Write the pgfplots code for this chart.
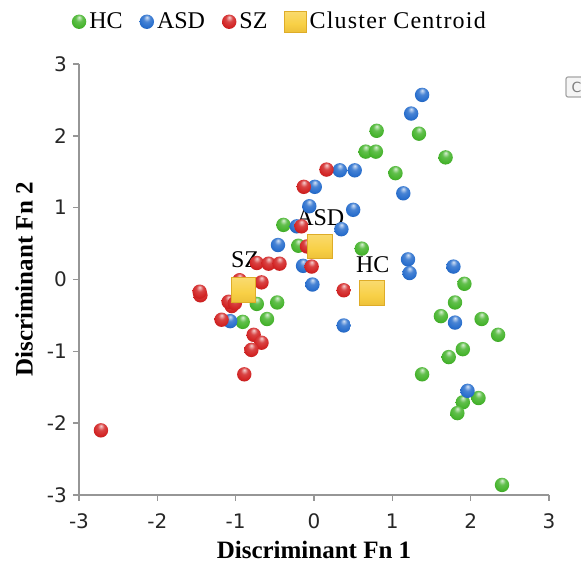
\documentclass[border=0pt]{standalone}
\usepackage{fontspec}
\setmainfont{Liberation Serif}
\newfontfamily\tickfont{DejaVu Sans}
\usepackage{pgfplots}
\pgfplotsset{compat=1.18}

\definecolor{hcgreen}{RGB}{70,180,45}
\definecolor{asdblue}{RGB}{40,110,205}
\definecolor{szred}{RGB}{210,35,35}
\definecolor{cyellow}{RGB}{248,208,70}
\definecolor{cedge}{RGB}{222,172,40}
\definecolor{axisgray}{RGB}{150,150,150}

% soft glossy balls, one shading per group
\pgfdeclareradialshading{ballG}{\pgfpoint{0bp}{16bp}}{color(0bp)=(hcgreen!20!white); color(12bp)=(hcgreen!85!white);
  color(26bp)=(hcgreen); color(40bp)=(hcgreen!75!black); color(50bp)=(hcgreen!55!black)}
\pgfdeclareradialshading{ballB}{\pgfpoint{0bp}{16bp}}{color(0bp)=(asdblue!20!white); color(12bp)=(asdblue!85!white);
  color(26bp)=(asdblue); color(40bp)=(asdblue!75!black); color(50bp)=(asdblue!55!black)}
\pgfdeclareradialshading{ballR}{\pgfpoint{0bp}{16bp}}{color(0bp)=(szred!20!white); color(12bp)=(szred!85!white);
  color(26bp)=(szred); color(40bp)=(szred!75!black); color(50bp)=(szred!55!black)}
\pgfdeclareverticalshading{cgrad}{100bp}{color(0bp)=(cedge); color(45bp)=(cyellow); color(100bp)=(cyellow!60!white)}
\pgfdeclareplotmark{ballG}{\pgfpathcircle{\pgfpointorigin}{\pgfplotmarksize}\pgfshadepath{ballG}{0}\pgfusepath{}}
\pgfdeclareplotmark{ballB}{\pgfpathcircle{\pgfpointorigin}{\pgfplotmarksize}\pgfshadepath{ballB}{0}\pgfusepath{}}
\pgfdeclareplotmark{ballR}{\pgfpathcircle{\pgfpointorigin}{\pgfplotmarksize}\pgfshadepath{ballR}{0}\pgfusepath{}}
\pgfdeclareplotmark{csquare}{%
  \pgfpathrectangle{\pgfpoint{-\pgfplotmarksize}{-\pgfplotmarksize}}{\pgfpoint{2\pgfplotmarksize}{2\pgfplotmarksize}}%
  \pgfshadepath{cgrad}{0}\pgfusepath{}%
  \pgfpathrectangle{\pgfpoint{-\pgfplotmarksize}{-\pgfplotmarksize}}{\pgfpoint{2\pgfplotmarksize}{2\pgfplotmarksize}}%
  \pgfusepath{stroke}}

\pgfplotsset{
  ball legend/.style={legend image code/.code={\draw[mark repeat=2, mark phase=2, ##1]
    plot coordinates {(0pt,0pt)(3.5pt,0pt)(7pt,0pt)};}},
  centroid legend/.style={legend image code/.code={\draw[mark repeat=2, mark phase=2, ##1, mark size=5.3pt]
    plot coordinates {(0pt,0pt)(5.5pt,0pt)(11pt,0pt)};}},
}

\begin{document}
\begin{tikzpicture}
\begin{axis}[
  scale only axis,
  width=235pt, height=215.5pt,
  xmin=-3, xmax=3, ymin=-3, ymax=3,
  xtick={-3,...,3}, ytick={-3,...,3},
  axis x line*=bottom, axis y line*=left,
  axis line style={draw=axisgray, line width=0.8pt, -},
  tick align=outside, major tick length=3pt,
  tick style={draw=axisgray, line width=0.8pt},
  ticklabel style={font=\tickfont\fontsize{10}{12}\selectfont, text=black!85},
  x tick label style={yshift=-3pt},
  y tick label style={xshift=0.5pt},
  /pgf/number format/assume math mode=true,
  xlabel={Discriminant Fn 1},
  ylabel={Discriminant Fn 2},
  label style={font=\fontsize{12.5}{15}\selectfont\bfseries},
  xlabel style={at={(axis description cs:0.5,-0.128)}, anchor=center},
  ylabel style={at={(axis description cs:-0.117,0.5)}, anchor=center},
  legend columns=4,
  legend style={draw=none, fill=none, at={(axis description cs:-0.016,1.098)},
    anchor=west, font=\fontsize{12}{14}\selectfont, inner sep=0pt,
    nodes={inner xsep=1.5pt},
    /tikz/every even column/.append style={column sep=7pt}},
  mark size=3.6pt,
]
% HC
\addplot[only marks, mark=ballG, ball legend] coordinates {
  (0.66,1.78) (0.79,1.78) (0.80,2.07) (1.34,2.03) (1.68,1.70) (1.04,1.48)
  (0.61,0.43) (-0.39,0.76) (-0.20,0.47) (-0.73,-0.34) (-0.47,-0.32)
  (-0.91,-0.59) (-0.60,-0.55) (1.38,-1.32) (1.92,-0.06) (1.80,-0.32)
  (1.62,-0.51) (2.14,-0.55) (2.35,-0.77) (1.90,-0.97) (1.72,-1.08)
  (2.10,-1.65) (1.90,-1.71) (1.83,-1.86) (2.40,-2.86)
};
\addlegendentry{HC}
% ASD
\addplot[only marks, mark=ballB, ball legend] coordinates {
  (1.38,2.57) (1.24,2.31) (0.33,1.52) (0.52,1.52) (1.14,1.20) (0.01,1.29)
  (-0.06,1.02) (0.50,0.97) (0.35,0.70) (-0.22,0.74) (-0.46,0.48)
  (-0.14,0.19) (-0.02,-0.07) (0.38,-0.64) (1.20,0.28) (1.22,0.09)
  (1.78,0.18) (1.80,-0.60) (1.96,-1.55) (-1.07,-0.58)
};
\addlegendentry{ASD}
% SZ
\addplot[only marks, mark=ballR, ball legend] coordinates {
  (0.16,1.53) (-0.13,1.29) (-0.16,0.74) (-0.09,0.46) (-0.03,0.18)
  (0.38,-0.15) (-0.73,0.23) (-0.58,0.22) (-0.44,0.22) (-0.95,-0.01)
  (-0.67,-0.04) (-1.45,-0.22) (-1.46,-0.17) (-1.05,-0.37) (-1.09,-0.31)
  (-1.01,-0.33) (-1.18,-0.56) (-0.77,-0.77) (-0.67,-0.88) (-0.80,-0.98)
  (-0.89,-1.32) (-2.72,-2.10)
};
\addlegendentry{SZ}
% centroids
\addplot[only marks, mark=csquare, mark size=6.2pt,
  mark options={draw=cedge, line width=0.5pt}, centroid legend] coordinates {
  (-0.90,-0.15) (0.08,0.46) (0.74,-0.19)
};
\addlegendentry{\addfontfeature{LetterSpace=5}Cluster Centroid}
\node[font=\fontsize{12}{14}\selectfont] at (axis cs:-0.88,0.27) {SZ};
\node[font=\fontsize{12}{14}\selectfont] at (axis cs:0.08,0.86) {ASD};
\node[font=\fontsize{12}{14}\selectfont] at (axis cs:0.75,0.20) {HC};
\end{axis}
\begin{scope}
  \clip (243pt,195pt) rectangle (251pt,212pt);
  \draw[gray!70, fill=gray!8, rounded corners=1pt, line width=0.6pt]
    (243.5pt,199pt) rectangle (262pt,209pt);
  \node[font=\tickfont\fontsize{7}{8}\selectfont, text=gray] at (248.8pt,204pt) {C};
\end{scope}
\pgfresetboundingbox
\path[use as bounding box] (-39.5pt,-35pt) rectangle (251pt,247.5pt);
\end{tikzpicture}
\end{document}
